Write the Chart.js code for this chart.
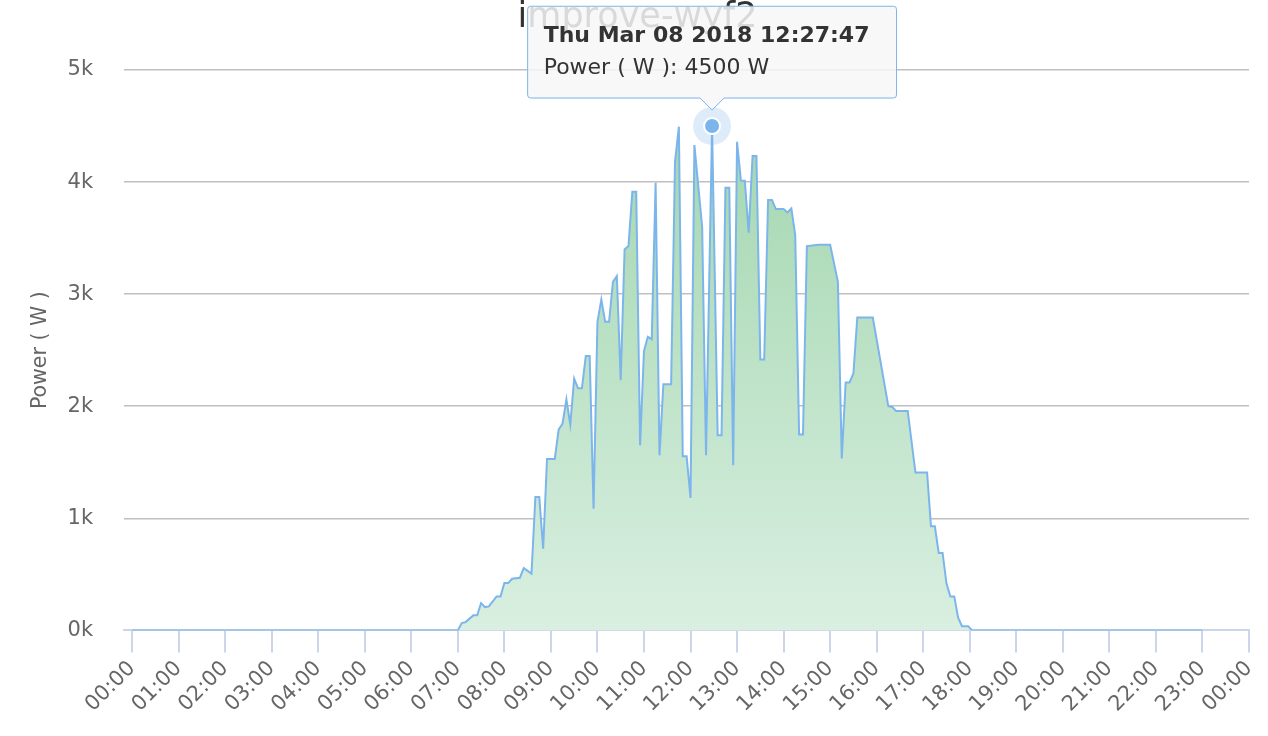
<!DOCTYPE html>
<html>
<head>
<meta charset="utf-8">
<script src="https://cdn.jsdelivr.net/npm/chart.js@4"></script>
<style>
  html, body { margin: 0; background: #fff; }
  #wrap { width: 1268px; height: 736px; }
</style>
</head>
<body>
<div id="wrap"><canvas id="chart"></canvas></div>
<script>
const chartTitle = 'improve-wyf2';
const day = 'Thu Mar 08 2018';

const times = [
  '00:00', '07:00', '07:05', '07:10', '07:20', '07:25', '07:30', '07:35', '07:40', '07:50',
  '07:55', '08:00', '08:05', '08:10', '08:20', '08:25', '08:35', '08:40', '08:45', '08:50',
  '08:55', '09:05', '09:10', '09:15', '09:20', '09:25', '09:30', '09:35', '09:40', '09:45',
  '09:50', '09:55', '10:00', '10:05', '10:10', '10:15', '10:20', '10:25', '10:30', '10:35',
  '10:40', '10:45', '10:50', '10:55', '11:00', '11:05', '11:10', '11:15', '11:20', '11:25',
  '11:35', '11:40', '11:45', '11:50', '11:55', '12:00', '12:05', '12:15', '12:20', '12:27:47',
  '12:35', '12:40', '12:45', '12:50', '12:55', '13:00', '13:05', '13:10', '13:15', '13:20',
  '13:25', '13:30', '13:35', '13:40', '13:45', '13:50', '14:00', '14:05', '14:10', '14:15',
  '14:20', '14:25', '14:30', '14:40', '14:45', '15:00', '15:10', '15:15', '15:20', '15:25',
  '15:30', '15:35', '15:55', '16:15', '16:20', '16:25', '16:40', '16:50', '17:05', '17:10',
  '17:15', '17:20', '17:25', '17:30', '17:35', '17:40', '17:45', '17:50', '17:58', '18:03',
  '23:00'
];
const power = [
  0, 0, 65, 74, 134, 134, 244, 208, 214, 303,
  303, 423, 423, 461, 470, 556, 506, 1190, 1190, 729,
  1530, 1530, 1792, 1845, 2060, 1837, 2247, 2160, 2160, 2449,
  2449, 1086, 2753, 2952, 2753, 2753, 3110, 3161, 2232, 3399,
  3429, 3914, 3914, 1652, 2494, 2619, 2598, 3994, 1562, 2196,
  2196, 4181, 4494, 1554, 1554, 1181, 4330, 3601, 1562, 4500,
  1741, 1741, 3949, 3949, 1473, 4360, 4012, 4012, 3548, 4232,
  4232, 2417, 2417, 3839, 3839, 3759, 3759, 3729, 3765, 3527,
  1747, 1747, 3429, 3437, 3440, 3440, 3110, 1533, 2212, 2212,
  2292, 2792, 2792, 2000, 1994, 1958, 1958, 1408, 1408, 929,
  929, 690, 690, 417, 303, 303, 113, 38, 38, 0,
  0
];

const hourLabels = [
  '00:00', '01:00', '02:00', '03:00', '04:00', '05:00', '06:00', '07:00', '08:00',
  '09:00', '10:00', '11:00', '12:00', '13:00', '14:00', '15:00', '16:00', '17:00',
  '18:00', '19:00', '20:00', '21:00', '22:00', '23:00', '00:00'
];
const yTicks = [0, 1000, 2000, 3000, 4000, 5000];

const highlight = times.indexOf('12:27:47');

function toHours(t) {
  const p = t.split(':').map(Number);
  return p[0] + p[1] / 60 + (p[2] || 0) / 3600;
}

const points = times.map((t, i) => ({ x: toHours(t), y: power[i] }));

Chart.defaults.font.family = '"DejaVu Sans", sans-serif';

const ctx = document.getElementById('chart');

const chart = new Chart(ctx, {
  type: 'line',
  data: {
    datasets: [
      {
        label: 'Power ( W )',
        data: points,
        borderColor: '#7cb5ec',
        borderWidth: 2,
        pointRadius: 0,
        tension: 0,
        fill: 'origin',
        order: 3,
        backgroundColor: (c) => {
          const area = c.chart.chartArea;
          if (!area) return 'rgba(0,0,0,0)';
          const g = c.chart.ctx.createLinearGradient(0, area.top, 0, area.bottom);
          g.addColorStop(0, '#9ed4aa');
          g.addColorStop(1, '#d9efe1');
          return g;
        }
      },
      {
        label: 'halo',
        data: [points[highlight]],
        showLine: false,
        pointRadius: 19,
        pointBackgroundColor: 'rgba(124,181,236,0.25)',
        pointBorderWidth: 0,
        order: 2
      },
      {
        label: 'Power ( W )',
        data: [points[highlight]],
        showLine: false,
        pointRadius: 8,
        pointBackgroundColor: '#7cb5ec',
        pointBorderColor: '#ffffff',
        pointBorderWidth: 2,
        order: 1
      }
    ]
  },
  options: {
    responsive: true,
    maintainAspectRatio: false,
    animation: false,
    events: [],
    layout: { padding: { left: 25, right: 18, top: 0, bottom: 15 } },
    plugins: {
      legend: { display: false },
      title: {
        display: true,
        text: chartTitle,
        color: '#333333',
        font: { size: 35, weight: 'normal', lineHeight: 1 },
        padding: { top: 0, bottom: 35 }
      },
      tooltip: {
        backgroundColor: 'rgba(247,247,247,0.85)',
        titleColor: '#333333',
        bodyColor: '#333333',
        borderColor: '#7cb5ec',
        borderWidth: 1,
        cornerRadius: 3,
        caretSize: 12,
        caretPadding: 16,
        padding: { top: 17, bottom: 17, left: 16, right: 27 },
        displayColors: false,
        titleFont: { size: 22, weight: 'bold' },
        bodyFont: { size: 22 },
        titleMarginBottom: 5,
        xAlign: 'center',
        yAlign: 'bottom',
        callbacks: {
          title: () => day + ' ' + times[highlight],
          label: (item) => item.dataset.label + ': ' + item.parsed.y + ' W'
        }
      }
    },
    scales: {
      x: {
        type: 'linear',
        min: -0.17,
        max: 24,
        afterBuildTicks: (s) => { s.ticks = hourLabels.map((_, i) => ({ value: i })); },
        afterFit: (s) => { s.paddingLeft = 0; s.paddingRight = 0; },
        ticks: {
          callback: (v, i) => hourLabels[i],
          autoSkip: false,
          maxRotation: 45,
          minRotation: 45,
          color: '#666666',
          font: { size: 21 },
          padding: 4
        },
        grid: { drawOnChartArea: false, color: '#ccd6eb', tickLength: 22, lineWidth: 2 },
        border: { color: '#ccd6eb', width: 2 }
      },
      y: {
        min: 0,
        max: 5000,
        afterBuildTicks: (s) => { s.ticks = yTicks.map((v) => ({ value: v })); },
        // Chart.js counts tick padding on both sides; drop the outer half
        afterFit: (s) => { s.width -= 31; },
        ticks: {
          callback: (v) => (v / 1000) + 'k',
          color: '#666666',
          font: { size: 21 },
          padding: 31
        },
        grid: {
          drawTicks: false,
          color: (c) => (c.tick && c.tick.value === 0 ? 'rgba(0,0,0,0)' : '#c0c0c0'),
          lineWidth: 1.5
        },
        border: { display: false },
        title: {
          display: true,
          text: 'Power ( W )',
          color: '#666666',
          font: { size: 20.5 },
          padding: { top: 3, bottom: 15 }
        }
      }
    }
  }
});

chart.tooltip.setActiveElements([{ datasetIndex: 2, index: 0 }], { x: 0, y: 0 });
chart.update();
</script>
</body>
</html>
